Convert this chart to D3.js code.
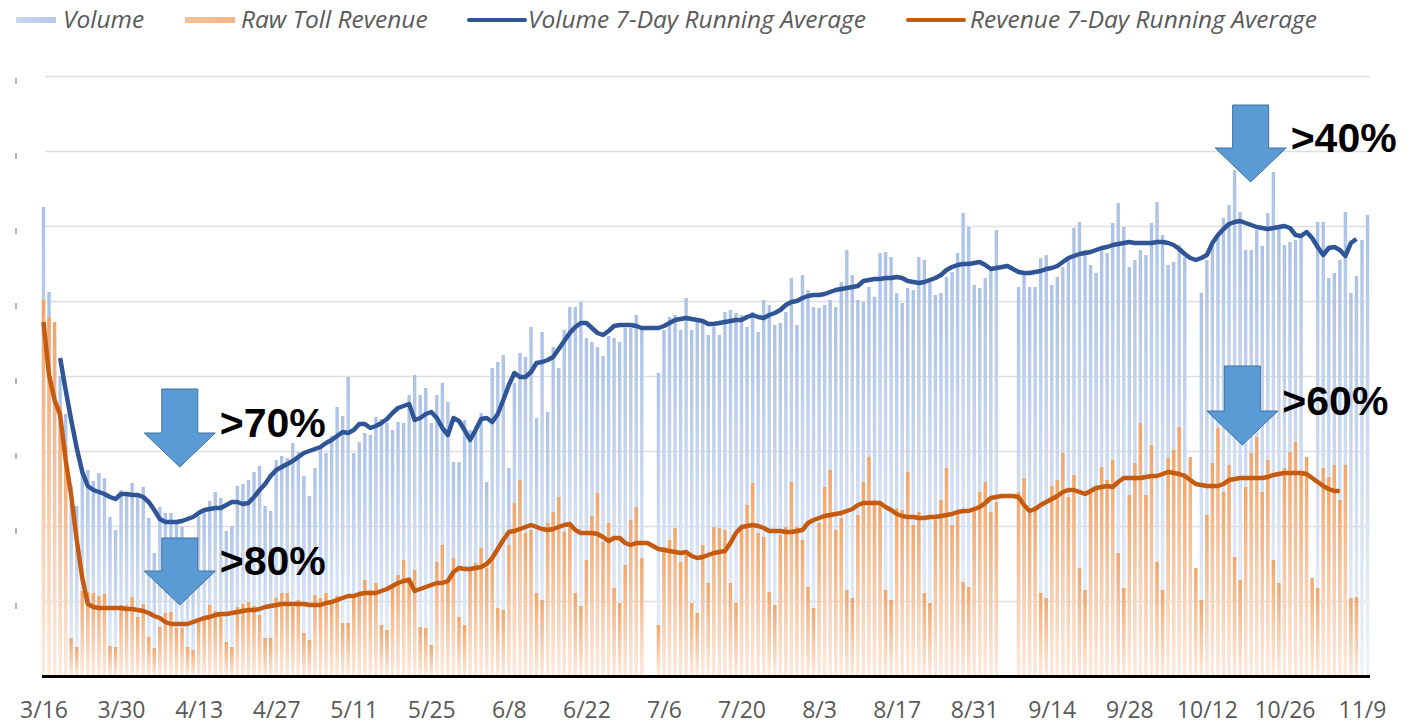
<!DOCTYPE html>
<html lang="en">
<head>
  <meta charset="UTF-8">
  <title>Toll Volume and Revenue</title>
  <script src="https://d3js.org/d3.v7.min.js"></script>
  <style>
    body { margin: 0; background: #fff; }
    svg { display: block; }
  </style>
</head>
<body>
  <script>

    // one value per day, starting Monday 3/16 (null = no data that day)
    var startDate = new Date(Date.UTC(2020, 2, 16));

    var volume = [
      469, 384, 340, 300, 262, 190, 170,
      208, 206, 195, 203, 198, 159, 146,
      186, 183, 193, 183, 189, 158, 123,
      169, 163, 163, 152, 149, 120, 110,
      160, 165, 175, 184, 178, 145, 150,
      190, 192, 196, 204, 210, 170, 165,
      216, 220, 218, 233, 224, 200, 180,
      208, 229, 223, 240, 269, 260, 299,
      223, 234, 243, 241, 259, 257, 253,
      246, 254, 253, 281, 301, 281, 288,
      253, 281, 293, 274, 214, 214, 256,
      246, 250, 263, 194, 308, 314, 321,
      208, 293, 323, 319, 349, 258, 344,
      264, 329, 308, 346, 369, 369, 374,
      338, 334, 329, 320, 340, 338, 334,
      348, 348, 361, 349, null, null, 303,
      346, 359, 361, 346, 378, 346, 356,
      353, 341, 349, 341, 364, 366, 363,
      361, 349, 364, 344, 376, 371, 351,
      353, 364, 398, 351, 401, 386, 369,
      368, 371, 376, 369, 394, 426, 401,
      376, 374, 389, 379, 423, 424, 419,
      383, 373, 388, 386, 419, 416, 396,
      381, 383, 399, 404, 423, 463, 449,
      391, 388, 398, 405, 446, null, null,
      null, 389, 401, 389, 389, 418, 421,
      391, 399, 409, 418, 448, 454, 426,
      411, 403, 426, 423, 453, 473, 449,
      409, 416, 426, 421, 453, 474, 441,
      411, 414, 431, 419, null, null, 383,
      416, 431, 443, 458, 471, 506, 464,
      426, 426, 446, 430, 463, 504, 448,
      431, 434, 436, 438, null, null, 454,
      454, 398, 403, 416, 464, 383, 400,
      436, 461
    ];

    var revenue = [
      376, 359, 354, 270, 230, 38, 29,
      85, 84, 83, 80, 82, 30, 29,
      71, 71, 79, 59, 72, 39, 28,
      49, 63, 64, 48, 48, 29, 26,
      56, 60, 71, 65, 62, 34, 29,
      69, 72, 74, 70, 61, 38, 38,
      78, 83, 83, 69, 76, 43, 36,
      81, 78, 83, 74, 80, 53, 53,
      80, 83, 96, 86, 93, 51, 46,
      89, 101, 116, 99, 106, 49, 48,
      31, 114, 131, 93, 118, 59, 51,
      106, 113, 128, 108, 119, 68, 66,
      131, 173, 196, 143, 146, 83, 76,
      153, 164, 179, 144, 154, 83, 70,
      116, 160, 183, 134, 153, 88, 73,
      111, 156, 169, 118, null, null, 51,
      129, 136, 148, 114, 124, 73, 63,
      131, 93, 149, 148, 146, 93, 73,
      149, 171, 193, 143, 139, 84, 71,
      141, 149, 194, 149, 136, 89, 68,
      153, 189, 206, 146, 158, 86, 78,
      161, 194, 219, 176, 174, 86, 76,
      168, 166, 204, 151, 164, 83, 73,
      156, 176, 208, 151, 166, 94, 89,
      168, 184, 194, 164, 174, null, null,
      null, 184, 198, 163, 170, 83, 78,
      190, 196, 223, 179, 201, 108, 86,
      186, 189, 209, 196, 216, 123, 88,
      181, 213, 253, 181, 231, 114, 86,
      218, 226, 249, 203, 219, 108, 76,
      161, 213, 248, 184, 211, 119, 96,
      189, 223, 239, 184, 216, 116, 93,
      208, 224, 234, 204, 219, 98, 88,
      208, 199, 211, 176, 211, 78, 79
    ];

    var volumeAvg = [
      null, null, null,
      318, 286, 256, 228, 204, 190, 186,
      184, 182, 179, 177, 182, 182, 181,
      181, 179, 174, 166, 157, 154, 154,
      154, 155, 157, 159, 163, 166, 167,
      168, 168, 171, 174, 174, 172, 173,
      179, 186, 192, 200, 206, 209, 212,
      215, 219, 223, 225, 227, 229, 233,
      236, 240, 244, 243, 246, 252, 252,
      248, 250, 253, 257, 263, 268, 270,
      272, 256, 258, 262, 264, 258, 248,
      241, 258, 255, 246, 236, 246, 257,
      258, 254, 262, 276, 291, 303, 299,
      299, 304, 313, 314, 316, 319, 327,
      335, 343, 349, 353, 353, 348, 343,
      341, 345, 350, 351, 351, 351, 350,
      348, 348, 348, 348, 350, 353, 356,
      357, 358, 357, 356, 355, 352, 352,
      353, 354, 355, 356, 356, 359, 361,
      359, 358, 361, 363, 366, 371, 374,
      375, 378, 380, 381, 381, 382, 384,
      386, 387, 388, 389, 390, 395, 396,
      397, 397, 398, 398, 399, 398, 395,
      394, 393, 394, 396, 398, 401, 406,
      409, 411, 412, 412, 413, 414, 411,
      407, 408, 409, 410, 407, 404, 403,
      403, 404, 405, 407, 408, 410, 414,
      418, 420, 422, 423, 424, 426, 428,
      429, 431, 432, 433, 434, 433, 433,
      433, 433, 434, 434, 433, 431, 427,
      422, 418, 416, 418, 421, 433, 441,
      447, 452, 454, 455, 453, 451, 449,
      448, 447, 448, 449, 450, 448, 441,
      440, 444, 438, 429, 421, 428, 429,
      426, 420, 433, 437,
      null, null
    ];

    var revenueAvg = [
      354, 301, 276, 261, 216, 181, 136,
      98, 72, 69, 68, 68, 68, 68,
      68, 67, 67, 66, 65, 63, 60,
      58, 54, 52, 52, 52, 52, 54,
      56, 58, 59, 61, 62, 62, 63,
      64, 65, 66, 66, 67, 69, 70,
      71, 72, 72, 72, 72, 72, 71,
      71, 71, 73, 74, 76, 78, 80,
      80, 82, 83, 83, 83, 85, 87,
      90, 93, 95, 96, 85, 87, 89,
      91, 93, 93, 95, 104, 108, 107,
      107, 108, 109, 112, 118, 127, 136,
      144, 145, 147, 149, 151, 149, 147,
      146, 147, 149, 151, 152, 146, 143,
      143, 143, 142, 139, 135, 138, 138,
      133, 131, 133, 133, 133, 130, 127,
      126, 125, 124, 123, 124, 120, 118,
      119, 121, 123, 124, 125, 133, 143,
      149, 150, 151, 150, 148, 145, 145,
      145, 144, 144, 145, 146, 153, 156,
      158, 160, 161, 162, 163, 165, 167,
      171, 173, 173, 173, 173, 169, 166,
      162, 160, 159, 159, 158, 158, 159,
      159, 160, 161, 162, 164, 165, 165,
      167, 169, 173, 178, 179, 180, 180,
      180, 179, 171, 165, 167, 171, 174,
      177, 180, 184, 186, 186, 184, 182,
      185, 188, 189, 190, 189, 194, 198,
      198, 198, 198, 199, 200, 200, 202,
      204, 203, 202, 200, 196, 192, 191,
      190, 190, 190, 192, 196, 197, 198,
      198, 198, 198, 198, 199, 201, 202,
      203, 203, 203, 203, 202, 198, 194,
      190, 187, 185, 185, null, null, null
    ];

    var xTickLabels = ["3/16", "3/30", "4/13", "4/27", "5/11", "5/25", "6/8", "6/22",
      "7/6", "7/20", "8/3", "8/17", "8/31", "9/14", "9/28", "10/12", "10/26", "11/9"];

    var gridValues = [75, 150, 225, 300, 375, 450, 525, 600];

    var legendItems = [
      { label: "Volume", kind: "bar", fill: "url(#volLegend)" },
      { label: "Raw Toll Revenue", kind: "bar", fill: "url(#revLegend)" },
      { label: "Volume 7-Day Running Average", kind: "line", fill: "#2f5597" },
      { label: "Revenue 7-Day Running Average", kind: "line", fill: "#c55a11" }
    ];

    // callout arrows: tip placed at a day offset / value
    var callouts = [
      { label: ">70%", day: 24.6, value: 209, shaft: 44 },
      { label: ">80%", day: 24.6, value: 71, shaft: 33 },
      { label: ">40%", day: 217.9, value: 494, shaft: 43 },
      { label: ">60%", day: 216.4, value: 231, shaft: 45 }
    ];

    var width = 1424;
    var height = 727;
    var barWidth = 3.4;
    var volColor = "#2f5597";
    var revColor = "#c55a11";

    var svg = d3.select("body")
      .append("svg")
        .attr("width", width)
        .attr("height", height)
        .style("background-color", "#ffffff");

    // gradients
    var defs = svg.append("defs");
    function addGradient(id, top, bottom, horizontal) {
      var g = defs.append("linearGradient")
          .attr("id", id)
          .attr("x1", 0).attr("y1", 0)
          .attr("x2", horizontal ? 1 : 0).attr("y2", horizontal ? 0 : 1);
      g.append("stop").attr("offset", "0%").attr("stop-color", top);
      g.append("stop").attr("offset", "100%").attr("stop-color", bottom);
    }
    addGradient("volGrad", "#acc2e6", "#eef3fa");
    addGradient("revGrad", "#f3a468", "#fdebdf");
    addGradient("volLegend", "#c9d7ef", "#b4c8ea", true);
    addGradient("revLegend", "#f8c29c", "#f6b485", true);

    // scales
    var dayMs = 864e5;
    function dayDate(i) {
      return new Date(startDate.getTime() + i * dayMs);
    }

    var x = d3.scaleUtc()
      .domain([startDate, dayDate(238)])
      .range([43.5, 1362]);

    var y = d3.scaleLinear()
      .domain([0, 600])
      .range([676, 76]);

    // gridlines
    svg.append("g")
      .selectAll("line")
      .data(gridValues)
      .join("line")
        .attr("x1", 45)
        .attr("x2", 1370)
        .attr("y1", function(d) { return y(d) + 0.5; })
        .attr("y2", function(d) { return y(d) + 0.5; })
        .attr("stroke", "#dedede")
        .attr("stroke-width", 1.5);

    // what is left of the cropped y labels
    svg.append("g")
      .selectAll("rect")
      .data(gridValues)
      .join("rect")
        .attr("x", 15)
        .attr("y", function(d) { return y(d) + 2; })
        .attr("width", 2)
        .attr("height", 6)
        .attr("fill", "#b5b5b5");

    function toPoints(values) {
      return values.map(function(v, i) {
        return { date: dayDate(i), value: v };
      });
    }

    var drawBars = function(values, fill) {
      svg.append("g")
        .selectAll("rect")
        .data(toPoints(values).filter(function(d) { return d.value !== null; }))
        .join("rect")
          .attr("x", function(d) { return x(d.date) - barWidth / 2; })
          .attr("y", function(d) { return y(d.value); })
          .attr("width", barWidth)
          .attr("height", function(d) { return y(0) - y(d.value); })
          .attr("fill", fill);
    };

    drawBars(volume, "url(#volGrad)");
    drawBars(revenue, "url(#revGrad)");

    var line = d3.line()
      .defined(function(d) { return d.value !== null; })
      .x(function(d) { return x(d.date); })
      .y(function(d) { return y(d.value); });

    svg.append("path")
      .attr("d", line(toPoints(volumeAvg)))
      .attr("fill", "none")
      .attr("stroke", volColor)
      .attr("stroke-width", 4.5)
      .attr("stroke-linejoin", "round");

    svg.append("path")
      .attr("d", line(toPoints(revenueAvg)))
      .attr("fill", "none")
      .attr("stroke", revColor)
      .attr("stroke-width", 4.5)
      .attr("stroke-linejoin", "round");

    // x axis
    var parseLabel = d3.utcParse("%m/%d/%Y");
    var tickDates = xTickLabels.map(function(l) { return parseLabel(l + "/2020"); });

    var xAxis = d3.axisBottom(x)
      .tickValues(tickDates)
      .tickFormat(d3.utcFormat("%-m/%-d"))
      .tickSize(0)
      .tickPadding(26);

    var axisG = svg.append("g")
      .attr("transform", "translate(0," + y(0) + ")")
      .call(xAxis);
    axisG.select(".domain").remove();
    axisG.selectAll("text")
      .attr("fill", "#595959")
      .style("font-family", "'Open Sans', sans-serif")
      .style("font-size", "23px");

    svg.append("line")
      .attr("x1", 42)
      .attr("x2", 1370)
      .attr("y1", y(0) + 0.5)
      .attr("y2", y(0) + 0.5)
      .attr("stroke", "#000")
      .attr("stroke-width", 3);

    // legend
    var legendX = [[16, 63], [185, 241], [469, 528], [908, 970]];
    var legend = svg.append("g")
      .selectAll("g")
      .data(legendItems)
      .join("g")
        .attr("transform", function(d, i) { return "translate(" + legendX[i][0] + ",0)"; });

    legend.filter(function(d) { return d.kind === "bar"; })
      .append("rect")
        .attr("x", 0)
        .attr("y", 17)
        .attr("width", function(d, i) { return i === 0 ? 40 : 50; })
        .attr("height", 6)
        .attr("fill", function(d) { return d.fill; });

    legend.filter(function(d) { return d.kind === "line"; })
      .append("line")
        .attr("x1", 0)
        .attr("x2", 56)
        .attr("y1", 20)
        .attr("y2", 20)
        .attr("stroke", function(d) { return d.fill; })
        .attr("stroke-width", 4)
        .attr("stroke-linecap", "round");

    legend.append("text")
      .attr("x", function(d, i) { return legendX[i][1] - legendX[i][0]; })
      .attr("y", 28)
      .attr("fill", "#595959")
      .style("font-family", "'Open Sans', sans-serif")
      .style("font-style", "italic")
      .style("font-size", "24.5px")
      .text(function(d) { return d.label; });

    // callout arrows
    var shaftW = 36;
    var headW = 71;
    var headH = 34;

    var callG = svg.append("g")
      .selectAll("g")
      .data(callouts)
      .join("g");

    callG.append("path")
      .attr("d", function(d) {
        var tx = x(new Date(startDate.getTime() + d.day * dayMs));
        var ty = y(d.value);
        var p = d3.path();
        p.moveTo(tx - shaftW / 2, ty - headH - d.shaft);
        p.lineTo(tx + shaftW / 2, ty - headH - d.shaft);
        p.lineTo(tx + shaftW / 2, ty - headH);
        p.lineTo(tx + headW / 2, ty - headH);
        p.lineTo(tx, ty);
        p.lineTo(tx - headW / 2, ty - headH);
        p.lineTo(tx - shaftW / 2, ty - headH);
        p.closePath();
        return p.toString();
      })
      .attr("fill", "#5b9bd5")
      .attr("stroke", "#41719c")
      .attr("stroke-width", 1);

    callG.append("text")
      .attr("x", function(d) { return x(new Date(startDate.getTime() + d.day * dayMs)) + 40; })
      .attr("y", function(d) { return y(d.value) - 30; })
      .attr("fill", "#000")
      .style("font-family", "'Liberation Sans', Arial, sans-serif")
      .style("font-weight", "bold")
      .style("font-size", "41px")
      .text(function(d) { return d.label; });

  </script>
</body>
</html>
